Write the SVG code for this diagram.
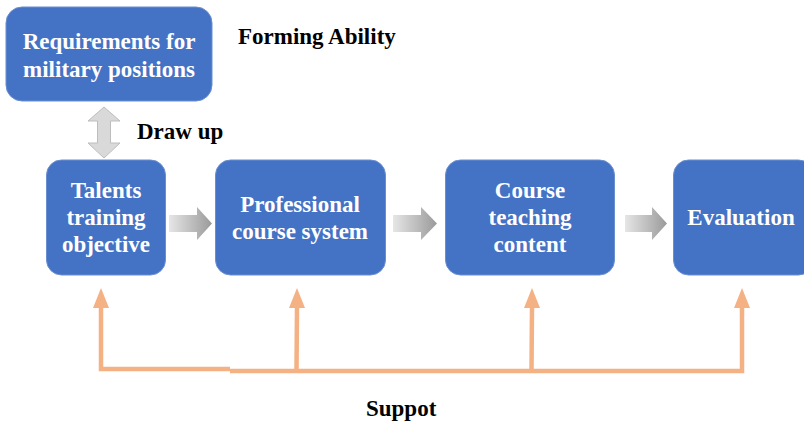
<svg xmlns="http://www.w3.org/2000/svg" width="804" height="423" viewBox="0 0 804 423">
  <defs>
    <linearGradient id="flowGrad" x1="0" y1="0" x2="1" y2="0">
      <stop offset="0" stop-color="#e6e6e6"/>
      <stop offset="1" stop-color="#9a9a9a"/>
    </linearGradient>
    <style>
      .box { fill: #4472C4; stroke: #6a8fd0; stroke-width: 1; }
      .boxText { fill: #ffffff; font-family: "Liberation Serif", "Times New Roman", serif; font-weight: bold; font-size: 23px; text-anchor: middle; }
      .label { fill: #000000; font-family: "Liberation Serif", "Times New Roman", serif; font-weight: bold; font-size: 23px; }
      .flow { fill: url(#flowGrad); }
      .support { stroke: #F4B183; stroke-width: 4.5; fill: none; }
      .supportHead { fill: #F4B183; }
    </style>
  </defs>

  <g id="requirements">
    <rect class="box" x="6" y="7" width="206" height="94" rx="16"/>
    <text class="boxText" x="109" y="49">Requirements for</text>
    <text class="boxText" x="109" y="77">military positions</text>
  </g>

  <g id="talents">
    <rect class="box" x="46.5" y="160" width="119" height="115" rx="15"/>
    <text class="boxText" x="106" y="198">Talents</text>
    <text class="boxText" x="106" y="225">training</text>
    <text class="boxText" x="106" y="252">objective</text>
  </g>

  <g id="professional">
    <rect class="box" x="215.5" y="160" width="170" height="115" rx="15"/>
    <text class="boxText" x="300" y="212">Professional</text>
    <text class="boxText" x="300" y="239">course system</text>
  </g>

  <g id="course">
    <rect class="box" x="445.5" y="160" width="169" height="115" rx="15"/>
    <text class="boxText" x="530" y="198">Course</text>
    <text class="boxText" x="530" y="225">teaching</text>
    <text class="boxText" x="530" y="252">content</text>
  </g>

  <g id="evaluation">
    <rect class="box" x="673.5" y="160" width="140" height="115" rx="15"/>
    <text class="boxText" x="741" y="225">Evaluation</text>
  </g>

  <g id="labels">
    <text class="label" x="238" y="44">Forming Ability</text>
    <text class="label" x="137" y="139">Draw up</text>
    <text class="label" x="366" y="416">Suppot</text>
  </g>

  <g id="connectors">
    <!-- two-way link between requirements and objective -->
    <polygon points="104,107 120,121 110.5,121 110.5,143 120,143 104,158 88,143 97.5,143 97.5,121 88,121" fill="#d9d9d9" stroke="#bdbdbd" stroke-width="1"/>

    <!-- flow arrows between stages -->
    <polygon class="flow" points="169,215 197,215 197,207 212,223.5 197,240 197,232 169,232"/>
    <polygon class="flow" points="393,215 421,215 421,207 437,223.5 421,240 421,232 393,232"/>
    <polygon class="flow" points="625,215 652,215 652,207 667,223.5 652,240 652,232 625,232"/>

    <!-- support bus -->
    <polyline class="support" points="101,306 101,369 230,369"/>
    <polyline class="support" points="230,371 742,371 742,306"/>
    <line class="support" x1="297" y1="306" x2="296.5" y2="371"/>
    <line class="support" x1="532" y1="306" x2="531.5" y2="371"/>
    <polygon class="supportHead" points="101,288 109,308 93,308"/>
    <polygon class="supportHead" points="297,288 305,308 289,308"/>
    <polygon class="supportHead" points="532,288 540,308 524,308"/>
    <polygon class="supportHead" points="742,288 750,308 734,308"/>
  </g>
</svg>
